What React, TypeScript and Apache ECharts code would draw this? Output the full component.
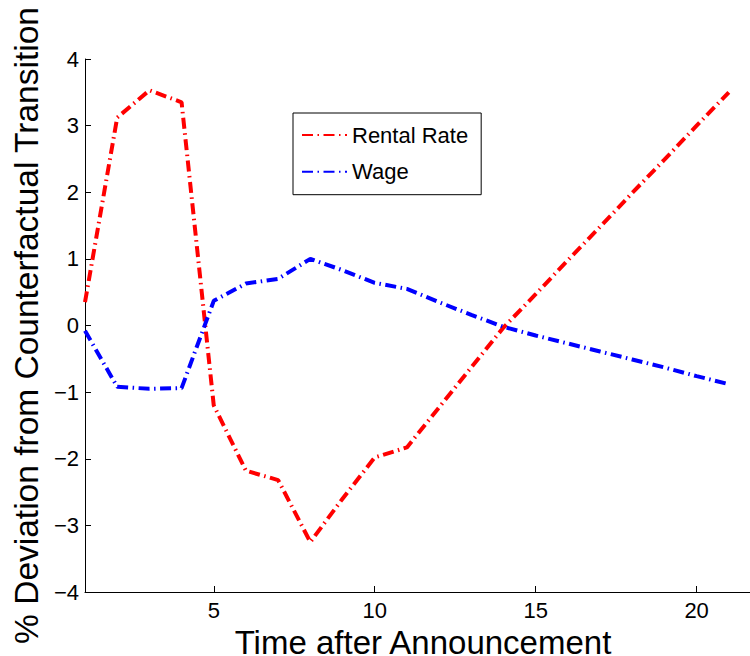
import React, { useEffect, useRef } from "react";
import * as echarts from "echarts";

const periods = [1, 2, 3, 4, 5, 6, 7, 8, 9, 10, 11, 12, 13, 14, 15, 16, 17, 18, 19, 20, 21];
const rentalRate = [0.35, 3.12, 3.53, 3.35, -1.2, -2.18, -2.32, -3.25, -2.6, -1.98, -1.83, -1.23, -0.63, -0.03, 0.47, 0.98, 1.48, 1.99, 2.49, 3.0, 3.5];
const wage = [-0.08, -0.92, -0.95, -0.94, 0.37, 0.63, 0.7, 1.0, 0.83, 0.64, 0.55, 0.35, 0.16, -0.02, -0.15, -0.27, -0.39, -0.51, -0.63, -0.76, -0.88];
const xTicks = [5, 10, 15, 20];
const seriesNames = ["Rental Rate", "Wage"];
const xLabel = "Time after Announcement";
const yLabel = "% Deviation from Counterfactual Transition";

const FONT = "'Liberation Sans', Arial, Helvetica, sans-serif";
const DASH = [11, 4.5, 1.5, 4.5];

export default function App() {
  const ref = useRef<HTMLDivElement>(null);
  useEffect(() => {
    if (!ref.current) return;
    document.body.style.overflow = "hidden";
    const chart = echarts.init(ref.current, undefined, { renderer: "svg" });
    const toPairs = (ys: number[]) => periods.map((x, i) => [x, ys[i]]);
    chart.setOption({
      animation: false,
      backgroundColor: "#ffffff",
      textStyle: { fontFamily: FONT },
      grid: { left: 85, top: 59, width: 676, height: 533, containLabel: false, outerBoundsMode: "none" },
      legend: {
        orient: "vertical",
        left: 293,
        top: 113,
        padding: [11, 13, 12, 8],
        itemWidth: 45,
        itemHeight: 14,
        itemGap: 14.7,
        backgroundColor: "#ffffff",
        borderColor: "#000000",
        borderWidth: 1,
        borderRadius: 0,
        itemStyle: { opacity: 0 },
        textStyle: { fontSize: 22, color: "#000000", fontFamily: FONT },
        data: seriesNames,
      },
      xAxis: {
        type: "value",
        min: 1,
        max: 22,
        name: xLabel,
        nameLocation: "middle",
        nameGap: 31,
        nameTextStyle: { fontSize: 33, lineHeight: 26, color: "#000000", fontFamily: FONT },
        splitLine: { show: false },
        axisLine: { show: true, onZero: false, lineStyle: { color: "#000000", width: 1 } },
        axisTick: { show: true, inside: true, length: 6, customValues: xTicks, lineStyle: { color: "#000000" } },
        axisLabel: { customValues: xTicks, fontSize: 22, color: "#000000", margin: 7, fontFamily: FONT },
      },
      yAxis: {
        type: "value",
        min: -4,
        max: 4,
        interval: 1,
        name: yLabel,
        nameLocation: "middle",
        nameGap: 38,
        nameTextStyle: { fontSize: 33.5, color: "#000000", fontFamily: FONT },
        splitLine: { show: false },
        axisLine: { show: true, onZero: false, lineStyle: { color: "#000000", width: 1 } },
        axisTick: { show: true, inside: true, length: 6, lineStyle: { color: "#000000" } },
        axisLabel: {
          fontSize: 22,
          color: "#000000",
          margin: 6,
          fontFamily: FONT,
          formatter: (v: number) => String(v).replace("-", "\u2212"),
        },
      },
      series: [
        {
          name: seriesNames[0],
          type: "line",
          data: toPairs(rentalRate),
          showSymbol: false,
          symbol: "none",
          color: "#ff0000",
          lineStyle: { color: "#ff0000", width: 4, type: DASH, cap: "butt" },
        },
        {
          name: seriesNames[1],
          type: "line",
          data: toPairs(wage),
          showSymbol: false,
          symbol: "none",
          color: "#0000ff",
          lineStyle: { color: "#0000ff", width: 4, type: DASH, cap: "butt" },
        },
      ],
    });
    return () => chart.dispose();
  }, []);
  return (
    <div
      ref={ref}
      style={{ position: "fixed", left: 0, top: 0, width: 750, height: 656, overflow: "hidden", background: "#fff" }}
    />
  );
}
